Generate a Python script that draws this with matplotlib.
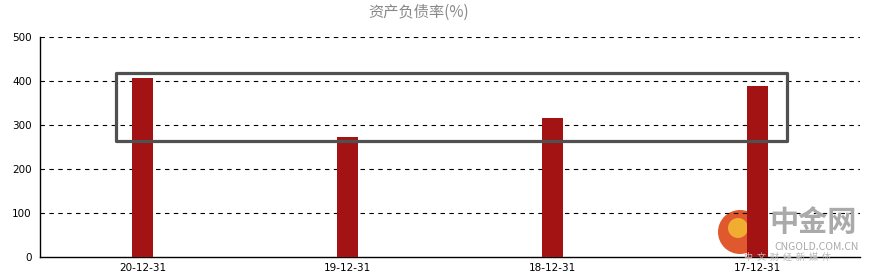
import matplotlib
matplotlib.use("Agg")
import matplotlib.pyplot as plt
from matplotlib.patches import Rectangle, Circle
from matplotlib.transforms import IdentityTransform

plt.rcParams['font.family'] = ['Noto Sans CJK SC', 'DejaVu Sans']

categories = ["20-12-31", "19-12-31", "18-12-31", "17-12-31"]
values = [407, 273, 316, 389]
title = "资产负债率(%)"
yticks = [0, 100, 200, 300, 400, 500]

W, H = 873, 279
fig = plt.figure(figsize=(W / 100, H / 100), dpi=100)
ax = fig.add_axes([40 / W, (H - 257) / H, (860 - 40) / W, (257 - 37) / H])
ax.patch.set_visible(False)

x = list(range(len(categories)))
ax.bar(x, values, width=0.098, color="#A31313", zorder=3)

ax.set_xlim(-0.5, len(categories) - 0.5)
ax.set_ylim(0, 500)
ax.set_yticks(yticks)
ax.set_yticklabels([str(v) for v in yticks], fontsize=7.5, family="DejaVu Sans")
ax.set_xticks(x)
ax.set_xticklabels(categories, fontsize=7.5, family="DejaVu Sans")
ax.tick_params(length=0, pad=6)
ax.tick_params(axis='x', pad=4)

for v in yticks[1:]:
    ax.axhline(v, color="black", linestyle=(0, (4, 4)), linewidth=0.8, zorder=1)

for s in ["top", "right"]:
    ax.spines[s].set_visible(False)
ax.spines["left"].set_color("black")
ax.spines["bottom"].set_color("black")
ax.spines["left"].set_linewidth(1)
ax.spines["bottom"].set_linewidth(1)

# highlight rectangle
rect = Rectangle((-0.129, 264), 3.273, 155, fill=False, edgecolor="#505050",
                 linewidth=2.3, joinstyle="round", zorder=4)
ax.add_patch(rect)

fig.text(419 / W, 1 - 12 / H, title, ha="center", va="center", fontsize=11, color="#888888")

# watermark
logo = Circle((740, H - 232), 22, transform=IdentityTransform(),
              facecolor="#DD4A1C", edgecolor="none", alpha=0.92, zorder=-1)
fig.patches.append(logo)
inner = Circle((738, H - 228), 10, transform=IdentityTransform(),
               facecolor="#F2B233", edgecolor="none", alpha=0.95, zorder=-1)
fig.patches.append(inner)
fig.text(813 / W, 1 - 222 / H, "中金网", ha="center", va="center",
         fontsize=21, color="#AAAAAA", weight="bold", zorder=6)
fig.text(817 / W, 1 - 247 / H, "CNGOLD.COM.CN", ha="center", va="center",
         fontsize=7.5, color="#AAAAAA", zorder=6)
fig.text(788 / W, 1 - 257 / H, "中  文  财  经  新  媒  体", ha="center", va="center",
         fontsize=6.5, color="#BBBBBB", zorder=6)

fig.savefig("out.png", dpi=100)
